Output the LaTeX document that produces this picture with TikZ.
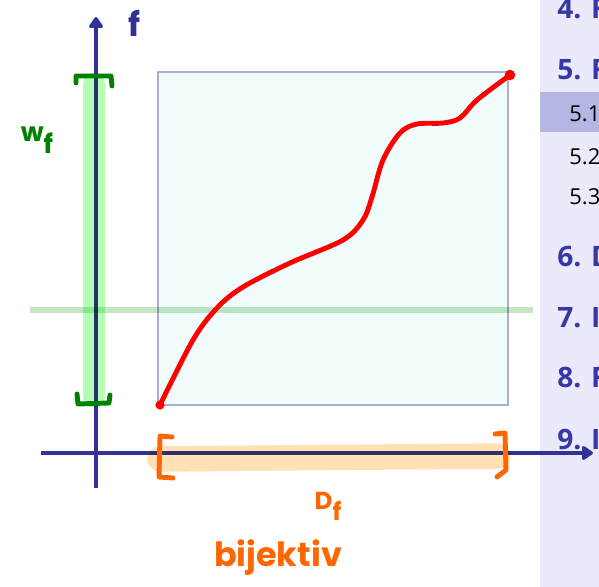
\documentclass[tikz,border=0pt]{standalone}
\usepackage{fontspec}
\setsansfont{Open Sans}
\newfontfamily\handfont{Poppins}
\definecolor{ppNavy}{RGB}{50, 50, 150}
\definecolor{ppToc}{RGB}{55, 55, 165}
\definecolor{ppSide}{RGB}{234, 234, 250}
\definecolor{ppHilite}{RGB}{182, 182, 228}
\definecolor{ppBox}{RGB}{241, 253, 253}
\definecolor{ppFrame}{RGB}{172, 172, 212}
\definecolor{ppGreen}{RGB}{0, 130, 0}
\definecolor{ppGreenBand}{RGB}{180, 255, 180}
\definecolor{ppGreenLine}{RGB}{196, 230, 196}
\definecolor{ppOrange}{RGB}{255, 102, 0}
\definecolor{ppOrangeBand}{RGB}{255, 225, 180}
\usetikzlibrary{arrows.meta}
\tikzset{
  axisline/.style={line width=2.6pt, ppNavy, -{Triangle[length=7pt, width=9pt, round]}},
  graph/.style={line width=2.8pt, red, line cap=round, line join=round},
  band/.style={line width=#1, line cap=round},
  bracket/.style={line width=2.8pt, #1, line cap=round, line join=round},
  ink/.style={inner sep=0pt, text=#1, font=\handfont\bfseries\fontsize{19}{19}\selectfont},
  tocsec/.style={anchor=west, inner sep=0pt, text=ppToc, font=\sffamily\bfseries\fontsize{16}{18}\selectfont},
  tocsub/.style={anchor=west, inner sep=0pt, text=black, font=\sffamily\fontsize{12.5}{14}\selectfont},
}
\begin{document}
\begin{tikzpicture}[x=0.02cm, y=-0.02cm]
  \useasboundingbox (0,0) rectangle (599,587);

  % Sidebar (table of contents)
  \fill[ppSide] (540,0) rectangle (599,587);
  \fill[ppHilite] (540,92) rectangle (599,132);
  \begin{scope}
    \clip (540,0) rectangle (599,587);
    \node[tocsec] (s4) at (557,9) {4. F};
    \node[tocsec] (s5) at (557,70) {5. F};
    \node[tocsub] (s51) at (569,114) {5.1};
    \node[tocsub] (s52) at (569,157) {5.2};
    \node[tocsub] (s53) at (569,197) {5.3};
    \node[tocsec] (s6) at (557,257) {6. D};
    \node[tocsec] (s7) at (557,318) {7. I};
    \node[tocsec] (s8) at (557,378) {8. F};
    \node[tocsec] (s9) at (557,440) {9. I};
  \end{scope}

  % Domain x range box
  \draw[draw=ppFrame, fill=ppBox, line width=1pt] (158,72) rectangle (508,405);

  % Axes
  \coordinate (xfoot) at (41,453);
  \coordinate (xtip) at (593,453);
  \coordinate (yfoot) at (96,488);
  \coordinate (ytip) at (96,17);
  \draw[axisline] (xfoot) -- (xtip);
  \draw[axisline] (yfoot) -- (ytip);

  % Highlighter strokes
  \begin{scope}[blend mode=multiply]
    \draw[band=3pt, ppGreenLine, line cap=butt] (30,310) -- (533,310);
    \draw[band=13pt, ppGreenBand] (94,84) -- (94,396);
    \draw[band=14.5pt, ppOrangeBand] (160,459) -- (498,456);
  \end{scope}

  % Brackets
  \draw[bracket=ppGreen] (76,83) -- (76,76) -- (111,76) -- (112,86);
  \draw[bracket=ppGreen] (77,394) -- (78,404) -- (109,403) -- (110,395);
  \draw[bracket=ppOrange] (172,437) -- (160,436) -- (159,477) -- (173,478);
  \draw[bracket=ppOrange] (495,434) -- (505,433) -- (506,470) -- (497,477);

  % Function graph
  \draw[graph] plot[smooth, tension=0.55] coordinates {(160,405) (193,340) (217,308)
    (243,287) (290,263) (343,240) (363,220) (372,197) (383,160) (400,133) (417,124)
    (443,123) (460,118) (477,100) (510,75)};
  \fill[red] (160,405) circle[radius=2.6pt];
  \fill[red] (510,75) circle[radius=3pt];

  % Labels
  \node[ink=ppNavy] (flabel) at (135,23) {f};
  \node[ink=ppGreen, font=\handfont\bfseries\fontsize{15}{15}\selectfont] (wlabel) at (37,140) {w\raisebox{-0.45em}{f}};
  \node[ink=ppOrange, font=\handfont\bfseries\fontsize{14}{14}\selectfont] (dlabel) at (328,506) {D\raisebox{-0.45em}{f}};
  \node[ink=ppOrange] (bijlabel) at (278,558) {bijektiv};
\end{tikzpicture}
\end{document}
